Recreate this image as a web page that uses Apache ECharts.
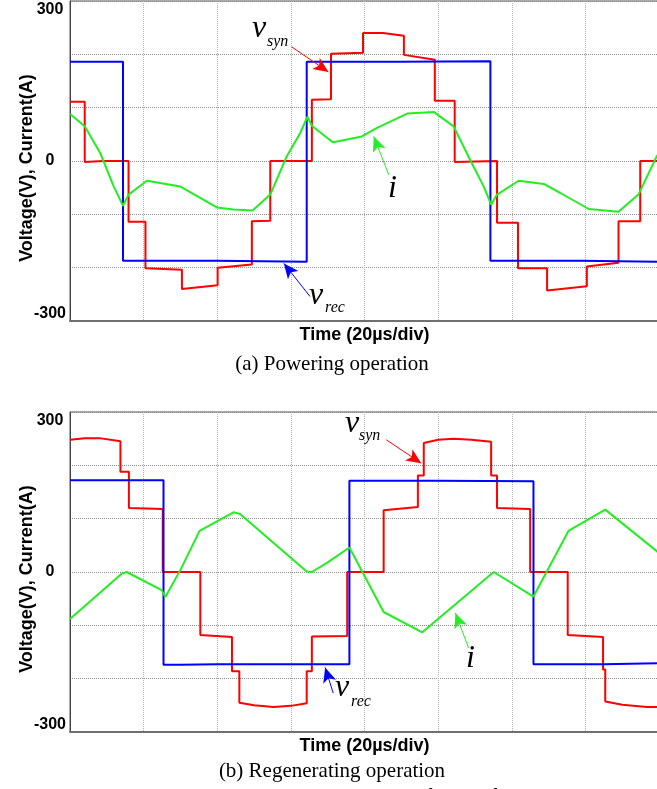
<!DOCTYPE html>
<html>
<head>
<meta charset="utf-8">
<title>Simulation waveforms</title>
<script src="https://cdn.jsdelivr.net/npm/echarts@6.0.0/dist/echarts.min.js"></script>
<style>
  html, body { margin: 0; padding: 0; background: #fff; }
  #chart { width: 657px; height: 789px; }
</style>
</head>
<body>
<div id="chart"></div>
<script>
// time in us, value in V / A  -- (a) powering
var powVrec = [[0,186],[14.4,186],[14.4,-187],[40,-187],[40,-189],[64.3,-189],[64.3,186],[89,186],[89,187],[114.2,187],[114.2,-187],[139,-187],[139,-189],[160,-189]];
var powVsyn = [[0,111],[4,111],[4,-2],[9,0],[15.9,0],[15.9,-114],[20.5,-114],[20.5,-201],[30.4,-204],[30.4,-240],[40.1,-233],[40.1,-200],[49.4,-194],[49.4,-113],[54.4,-112],[54.4,0],[65.7,0],[65.7,115],[70.9,116],[70.9,201],[79.6,203],[79.6,240],[85,240],[90.7,235],[90.7,199],[99.1,190],[99.1,113],[104.5,113],[104.5,-2],[116,0],[116,-116],[121.7,-116],[121.7,-201],[129.6,-201],[129.6,-243],[140.4,-235],[140.4,-198],[149,-191],[149,-113],[154.9,-113],[154.9,0],[160,0]];
var powI = [[0,88],[4,65],[8.2,15],[11.9,-48],[14.4,-84],[15.9,-63],[20.9,-37],[30,-48],[39.9,-87],[44.4,-91],[49.6,-93],[54.4,-63],[58.9,9],[62.5,52],[64.5,83],[65.7,66],[70.5,40],[71.5,35],[79.3,46],[83.4,62],[91.6,89],[98.8,92],[104.2,65],[108.7,2],[112.4,-48],[114.4,-82],[116,-63],[121.9,-37],[128.7,-43],[133.2,-60],[140.9,-90],[149,-95],[154.4,-63],[159.4,9],[160,15]];

// (b) regenerating
var regVrec = [[0,172],[25.4,172],[25.4,-174],[30,-174],[40,-173],[75.9,-173],[75.9,171],[100,171],[125.9,170],[125.9,-173],[145,-173],[145,-171],[160,-171]];
var regVsyn = [[0,248],[4,251],[8,251],[13.7,245],[13.7,188],[16,188],[16,120],[25.2,118],[25.2,0],[35.4,0],[35.4,-118],[44,-122],[44,-186],[46,-186],[46,-245],[50,-250],[55.3,-253],[60,-251],[64.3,-246],[64.3,-186],[65.7,-186],[65.7,-121],[75.3,-120],[75.3,0],[85.2,0],[85.2,116],[94.5,122],[94.5,181],[96.1,181],[96.1,242],[100,248],[104.2,250],[109,248],[114.4,244],[114.4,181],[116,181],[116,120],[125,118],[125,0],[135.2,0],[135.2,-118],[144.8,-122],[144.8,-183],[145.4,-183],[145.4,-243],[150,-249],[156.7,-253],[160,-253]];
var regI = [[0,-88],[14.1,-3],[15.4,0],[24.9,-34],[25.9,-47],[30,4],[35.2,77],[44.4,112],[46.1,109],[64.3,1],[65.7,0],[69.8,17],[75.9,46],[85.2,-75],[95.7,-113],[115.1,0],[125.9,-46],[135.4,77],[145.4,117],[159.4,39],[160,35]];

// annotation arrows [tail, tip] in data units
var powArrows = { syn: [[60.2,214],[70.2,167]], rec: [[65.2,-254],[58.1,-192]], i: [[86.6,-26],[82.5,46]] };
var regArrows = { syn: [[85.9,248],[95.4,204]], rec: [[71.5,-227],[69.3,-179]], i: [[108.3,-143],[104.7,-77]] };

var yTicks = { max: '300', zero: '0', min: '-300' };

var SANS = 'Liberation Sans, Arial, sans-serif';
var SERIF = 'Liberation Serif, Times New Roman, serif';
var RED = '#ff0000', BLUE = '#0000ff', GREEN = '#22ee22';

var chart = echarts.init(document.getElementById('chart'), null, { renderer: 'canvas' });

function xAx(gi) {
  return {
    gridIndex: gi, type: 'value', min: 0, max: 160, interval: 20,
    name: 'Time (20\u00b5s/div)', nameLocation: 'middle', nameGap: 5,
    nameTextStyle: { fontFamily: SANS, fontWeight: 'bold', fontSize: 18, color: '#000', verticalAlign: 'top' },
    axisLine: { show: true, onZero: false, lineStyle: { color: '#707070', width: 2 } },
    axisTick: { show: false }, axisLabel: { show: false },
    splitLine: { show: true, lineStyle: { color: '#b4b4b4', type: 'dotted', width: 1 } }
  };
}
function yAx(gi) {
  var lab = { fontFamily: SANS, fontWeight: 'bold', fontSize: 16, color: '#000', align: 'center' };
  return {
    gridIndex: gi, type: 'value', min: -300, max: 300, interval: 100,
    name: 'Voltage(V), Current(A)', nameLocation: 'middle', nameGap: 34, nameMoveOverlap: false,
    nameTextStyle: { fontFamily: SANS, fontWeight: 'bold', fontSize: 18, color: '#000', padding: [0, 14, 0, 0] },
    axisLine: { show: true, onZero: false, lineStyle: { color: '#444', width: 1 } },
    axisTick: { show: false },
    axisLabel: {
      margin: 20, align: 'center',
      formatter: function (v) {
        if (v === 300) return '{hi|' + yTicks.max + '}';
        if (v === -300) return '{lo|' + yTicks.min + '}';
        if (v === 0) return '{z|' + yTicks.zero + '}';
        return '';
      },
      rich: {
        hi: Object.assign({ padding: [17, 0, 0, 0] }, lab),
        lo: Object.assign({ padding: [0, 0, 14, 0] }, lab),
        z: lab
      }
    },
    splitLine: { show: true, lineStyle: { color: '#8c8c8c', type: 'dotted', width: 1 } }
  };
}
function arrow(color, pts) {
  return {
    silent: true, symbol: ['none', 'arrow'], symbolSize: [10, 15],
    lineStyle: { color: color, width: 1, type: 'solid' },
    label: { show: false }, emphasis: { disabled: true },
    data: [[{ coord: pts[0] }, { coord: pts[1] }]]
  };
}
function line(name, gi, color, data, arr) {
  return {
    name: name, type: 'line', xAxisIndex: gi, yAxisIndex: gi, data: data,
    showSymbol: false, lineStyle: { color: color, width: 2 }, itemStyle: { color: color },
    markLine: arrow(color, arr)
  };
}
function txt(x, y, s, size, align) {
  return { type: 'text', x: x, y: y, silent: true,
    style: { text: s, fill: '#000', font: size, textAlign: align || 'left', textVerticalAlign: 'middle' } };
}

var option = {
  animation: false,
  grid: [
    { left: 70, right: -2, top: 1, height: 320, show: true, borderColor: '#555', borderWidth: 1, outerBoundsMode: 'none', containLabel: false },
    { left: 70, right: -2, top: 412, height: 320, show: true, borderColor: '#555', borderWidth: 1, outerBoundsMode: 'none', containLabel: false }
  ],
  xAxis: [xAx(0), xAx(1)],
  yAxis: [yAx(0), yAx(1)],
  series: [
    line('v_syn', 0, RED, powVsyn, powArrows.syn),
    line('v_rec', 0, BLUE, powVrec, powArrows.rec),
    line('i', 0, GREEN, powI, powArrows.i),
    line('v_syn', 1, RED, regVsyn, regArrows.syn),
    line('v_rec', 1, BLUE, regVrec, regArrows.rec),
    line('i', 1, GREEN, regI, regArrows.i)
  ],
  graphic: [
    txt(252, 29, 'v', 'italic 32px ' + SERIF),
    txt(267, 42, 'syn', 'italic 16px ' + SERIF),
    txt(309, 296, 'v', 'italic 32px ' + SERIF),
    txt(325, 308, 'rec', 'italic 16px ' + SERIF),
    txt(388, 189, 'i', 'italic 32px ' + SERIF),
    txt(345, 424, 'v', 'italic 32px ' + SERIF),
    txt(359, 436, 'syn', 'italic 16px ' + SERIF),
    txt(335, 688, 'v', 'italic 32px ' + SERIF),
    txt(351, 702, 'rec', 'italic 16px ' + SERIF),
    txt(466, 659, 'i', 'italic 32px ' + SERIF),
    txt(332, 364, '(a) Powering operation', '21px ' + SERIF, 'center'),
    txt(332, 771, '(b) Regenerating operation', '21px ' + SERIF, 'center'),
    txt(224, 797, 'Fig. 6  Simulation waveforms of voltage and current applied to the', '21px ' + SERIF)
  ]
};
chart.setOption(option);
window.addEventListener('resize', chart.resize);
</script>
</body>
</html>
